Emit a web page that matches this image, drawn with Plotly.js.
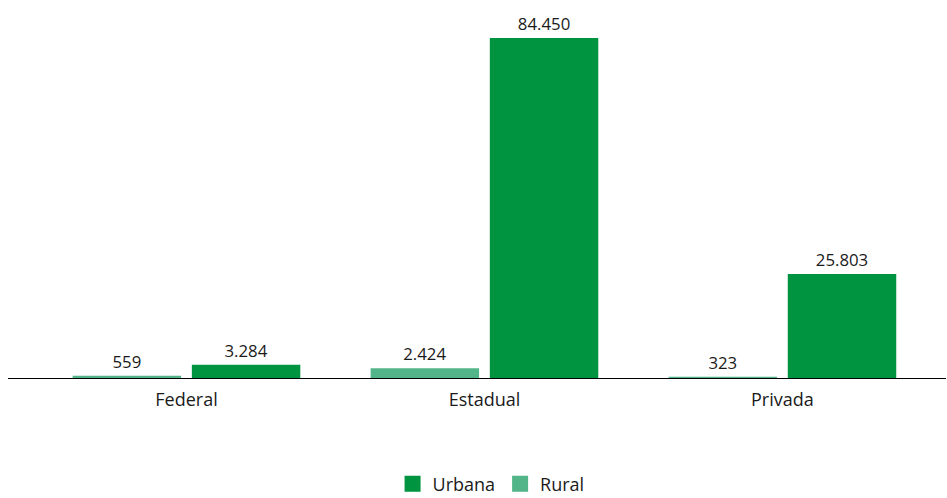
<!DOCTYPE html>
<html>
<head>
<meta charset="utf-8">
<script src="https://cdn.plot.ly/plotly-3.0.1.min.js"></script>
<style>html,body{margin:0;padding:0;background:#fff;}#chart{width:947px;height:498px;}</style>
</head>
<body>
<div id="chart"></div>
<script>
const categories = ["Federal", "Estadual", "Privada"];
const rural = [559, 2424, 323];
const urbana = [3284, 84450, 25803];
const seriesNames = ["Rural", "Urbana"];
const colors = ["#52B589", "#009340"];

const valueFont = {family: "'Open Sans', sans-serif", size: 16.8, color: "#1a1a1a"};
const labelFont = {family: "'Open Sans', sans-serif", size: 18, color: "#1a1a1a"};

const traces = [
  {type: "bar", name: seriesNames[0], x: categories, y: rural, showlegend: false,
   marker: {color: colors[0]}, texttemplate: "%{y:,}", textposition: "outside",
   textfont: valueFont, cliponaxis: false, hoverinfo: "none"},
  {type: "bar", name: seriesNames[1], x: categories, y: urbana, showlegend: false,
   marker: {color: colors[1]}, texttemplate: "%{y:,}", textposition: "outside",
   textfont: valueFont, cliponaxis: false, hoverinfo: "none"},
  {type: "scatter", mode: "markers", name: seriesNames[0], x: [null], y: [null],
   marker: {symbol: "square", size: 20, color: colors[0]}, hoverinfo: "none"},
  {type: "scatter", mode: "markers", name: seriesNames[1], x: [null], y: [null],
   marker: {symbol: "square", size: 20, color: colors[1]}, hoverinfo: "none"}
];

const layout = {
  width: 947, height: 498,
  margin: {l: 8, r: 1, t: 10, b: 120, autoexpand: false},
  paper_bgcolor: "#fff", plot_bgcolor: "#fff",
  separators: ",.",
  font: labelFont,
  barmode: "group",
  bargap: 0.2, bargroupgap: 0.09,
  showlegend: true,
  legend: {orientation: "h", traceorder: "reversed", x: 0.515, xanchor: "center",
           y: -0.288, yanchor: "middle", font: labelFont},
  xaxis: {range: [-0.599, 2.549], showline: true, linecolor: "#000", linewidth: 1,
          ticks: "", showgrid: false, zeroline: false, tickfont: labelFont, fixedrange: true,
          ticklabelstandoff: 5, automargin: false},
  yaxis: {range: [0, 91400], visible: false, showgrid: false, zeroline: false, fixedrange: true}
};

Plotly.newPlot("chart", traces, layout, {displayModeBar: false, staticPlot: true});
</script>
</body>
</html>
